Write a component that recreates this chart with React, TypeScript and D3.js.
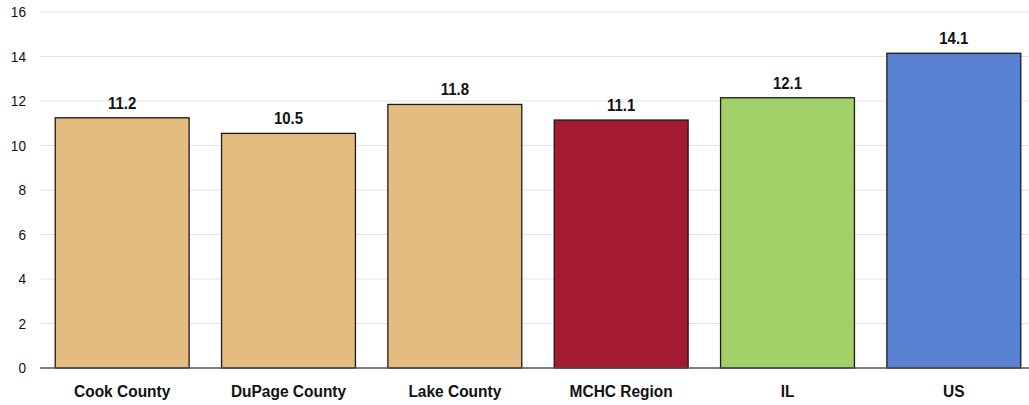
import React from "react";
import * as d3 from "d3";

const categories = ["Cook County", "DuPage County", "Lake County", "MCHC Region", "IL", "US"];
const values = [11.2, 10.5, 11.8, 11.1, 12.1, 14.1];
const colors = ["#E4BC7F", "#E4BC7F", "#E4BC7F", "#A31A31", "#A1D068", "#5882D1"];
const yTicks = [0, 2, 4, 6, 8, 10, 12, 14, 16];

const W = 1029;
const H = 405;
const FONT = "'Liberation Sans', Arial, sans-serif";

export default function App() {
  const x = d3.scaleBand<string>().domain(categories).range([39, 1037]).paddingInner(0.195).paddingOuter(0.0975);
  const y = d3.scaleLinear().domain([0, 16]).range([368, 12]);
  return (
    <svg width={W} height={H} style={{ position: "absolute", left: 0, top: 0 }} fontFamily={FONT}>
      {yTicks.map((t) => (
        <g key={t}>
          {t > 0 && <line x1={40} x2={W} y1={y(t)} y2={y(t)} stroke="#e3e3e3" strokeWidth={1} />}
          <text transform={`translate(26,${y(t)}) scale(0.88,1)`} dy="0.35em" textAnchor="end" fontSize={15.5} fill="#111">
            {t}
          </text>
        </g>
      ))}
      {categories.map((c, i) => {
        const cx = (x(c) as number) + x.bandwidth() / 2;
        return (
          <g key={c}>
            <rect
              x={x(c)}
              y={y(values[i]) - 1}
              width={x.bandwidth()}
              height={y(0) - y(values[i]) + 1}
              fill={colors[i]}
              stroke="#1a1a1a"
              strokeWidth={1.3}
            />
            <text transform={`translate(${cx},${y(values[i]) - 10}) scale(0.88,1)`} textAnchor="middle" fontSize={17} fontWeight="bold" fill="#111">
              {values[i].toFixed(1)}
            </text>
            <text transform={`translate(${cx},397) scale(0.91,1)`} textAnchor="middle" fontSize={17} fontWeight="bold" fill="#111">
              {c}
            </text>
          </g>
        );
      })}
      <line x1={40} x2={W} y1={y(0)} y2={y(0)} stroke="#555" strokeWidth={1.3} />
    </svg>
  );
}
